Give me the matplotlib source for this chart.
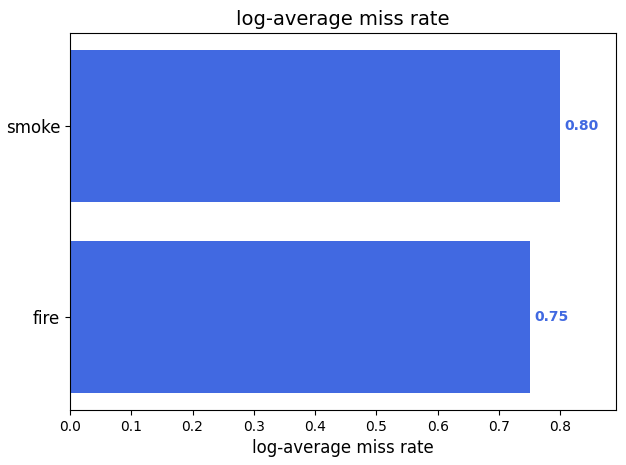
import matplotlib
matplotlib.use("Agg")
import matplotlib.pyplot as plt

categories = ['fire', 'smoke']
miss_rates = [0.75, 0.80]

fig, ax = plt.subplots(figsize=(6.26, 4.65))
fig.subplots_adjust(left=70 / 626, right=616 / 626, top=1 - 33 / 465, bottom=1 - 410 / 465)
bars = ax.barh(categories, miss_rates, color='royalblue')

for bar, val in zip(bars, miss_rates):
    ax.text(bar.get_width() + 0.007, bar.get_y() + bar.get_height() / 2,
            f'{val:.2f}', va='center', ha='left', color='royalblue',
            fontweight='bold', fontsize=10)

ax.set_xlim(0, 0.891)
ax.set_xticks([0.0, 0.1, 0.2, 0.3, 0.4, 0.5, 0.6, 0.7, 0.8])
ax.tick_params(axis='y', labelsize=12)
ax.set_xlabel('log-average miss rate', fontsize=12)
ax.set_title('log-average miss rate', fontsize=14)

fig.savefig('out.png', dpi=100)
